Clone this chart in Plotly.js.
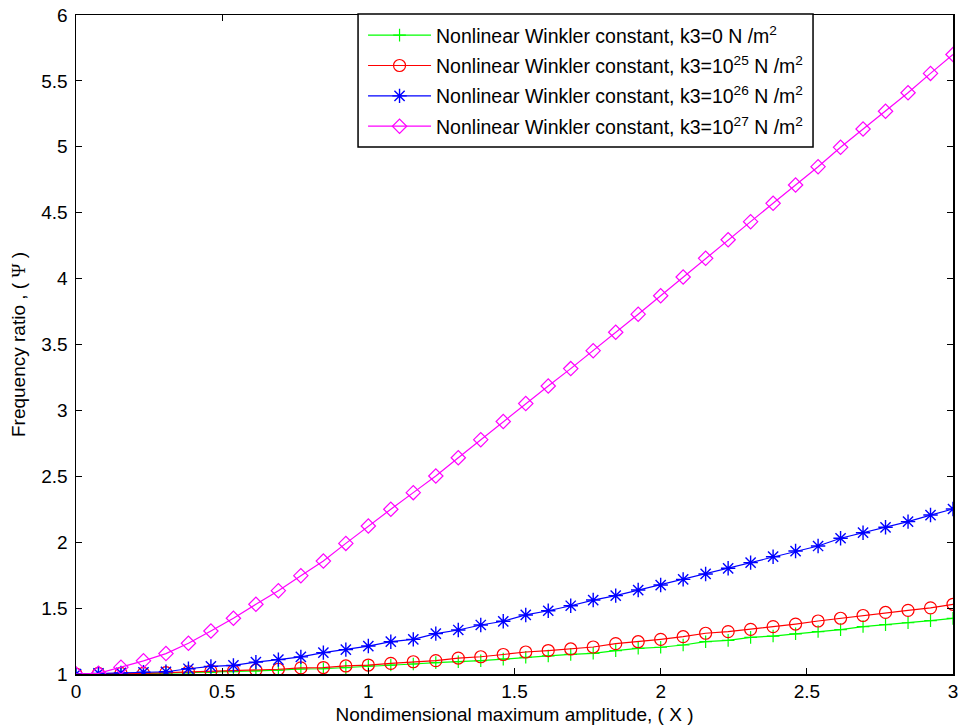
<!DOCTYPE html>
<html>
<head>
<meta charset="utf-8">
<script src="https://cdn.plot.ly/plotly-3.0.1.min.js"></script>
<style>
  html, body { margin: 0; padding: 0; background: #ffffff; }
  #chart { width: 970px; height: 726px; }
</style>
</head>
<body>
<div id="chart"></div>
<script>
// Nondimensional maximum amplitude (X)
const amplitude = [0, 0.0769, 0.1538, 0.2308, 0.3077, 0.3846, 0.4615, 0.5385, 0.6154, 0.6923,
  0.7692, 0.8462, 0.9231, 1.0000, 1.0769, 1.1538, 1.2308, 1.3077, 1.3846, 1.4615,
  1.5385, 1.6154, 1.6923, 1.7692, 1.8462, 1.9231, 2.0000, 2.0769, 2.1538, 2.2308,
  2.3077, 2.3846, 2.4615, 2.5385, 2.6154, 2.6923, 2.7692, 2.8462, 2.9231, 3.0000];

// Frequency ratio (Psi) for each nonlinear Winkler constant
const ratioK0 = [1.000, 1.000, 1.002, 1.004, 1.006, 1.009, 1.013, 1.018, 1.023, 1.030,
  1.038, 1.040, 1.048, 1.061, 1.068, 1.076, 1.086, 1.093, 1.101, 1.113,
  1.127, 1.137, 1.149, 1.157, 1.177, 1.195, 1.203, 1.220, 1.245, 1.255,
  1.278, 1.288, 1.305, 1.322, 1.337, 1.360, 1.374, 1.389, 1.405, 1.422];

const ratioK25 = [1.000, 1.005, 1.005, 1.005, 1.010, 1.017, 1.023, 1.023, 1.030, 1.036,
  1.046, 1.049, 1.061, 1.068, 1.081, 1.093, 1.102, 1.121, 1.131, 1.148,
  1.167, 1.178, 1.190, 1.205, 1.230, 1.245, 1.263, 1.283, 1.309, 1.321,
  1.339, 1.359, 1.379, 1.402, 1.423, 1.444, 1.467, 1.483, 1.502, 1.529];

const ratioK26 = [1.000, 1.005, 1.008, 1.013, 1.017, 1.040, 1.058, 1.065, 1.090, 1.109,
  1.130, 1.162, 1.185, 1.212, 1.245, 1.263, 1.306, 1.334, 1.372, 1.400,
  1.448, 1.480, 1.518, 1.561, 1.595, 1.637, 1.675, 1.718, 1.759, 1.802,
  1.845, 1.890, 1.933, 1.971, 2.030, 2.072, 2.113, 2.156, 2.206, 2.252];

const ratioK27 = [1.000, 1.005, 1.052, 1.100, 1.155, 1.233, 1.326, 1.423, 1.529, 1.632,
  1.746, 1.857, 1.991, 2.123, 2.250, 2.376, 2.502, 2.641, 2.778, 2.916,
  3.052, 3.185, 3.317, 3.453, 3.593, 3.730, 3.870, 4.012, 4.154, 4.295,
  4.432, 4.571, 4.710, 4.849, 4.996, 5.135, 5.270, 5.410, 5.557, 5.700];

const seriesNames = [
  'Nonlinear Winkler constant, k3=0 N /m<sup>2</sup>',
  'Nonlinear Winkler constant, k3=10<sup>25</sup> N /m<sup>2</sup>',
  'Nonlinear Winkler constant, k3=10<sup>26</sup> N /m<sup>2</sup>',
  'Nonlinear Winkler constant, k3=10<sup>27</sup> N /m<sup>2</sup>'
];

const xTitle = 'Nondimensional maximum amplitude, ( X )';
const yTitle = 'Frequency ratio , ( <span style="font-family:\'Liberation Serif\'">\u03A8</span> )';

const traces = [
  {x: amplitude, y: ratioK0, name: seriesNames[0], legendgroup: 'g0', type: 'scatter', mode: 'lines+markers',
   line: {color: '#00ff00', width: 1.2},
   marker: {symbol: 'cross-thin-open', size: 9, color: '#00ff00', line: {color: '#00ff00', width: 1.2}}},
  {x: amplitude, y: ratioK25, name: seriesNames[1], legendgroup: 'g1', type: 'scatter', mode: 'lines+markers',
   line: {color: '#ff0000', width: 1.2},
   marker: {symbol: 'circle-open', size: 12, color: '#ff0000', line: {color: '#ff0000', width: 1.2}}},
  {x: amplitude, y: ratioK26, name: seriesNames[2], legendgroup: 'g2', type: 'scatter', mode: 'lines+markers',
   line: {color: '#0000ff', width: 1.2},
   marker: {symbol: 'asterisk-open', size: 12, color: '#0000ff', line: {color: '#0000ff', width: 1.4}}},
  {x: amplitude, y: ratioK27, name: seriesNames[3], legendgroup: 'g3', type: 'scatter', mode: 'lines+markers',
   line: {color: '#ff00ff', width: 1.2},
   marker: {symbol: 'diamond-open', size: 11, color: '#ff00ff', line: {color: '#ff00ff', width: 1.2}}}
];

const axisCommon = {
  showgrid: false, zeroline: false, showline: true, mirror: 'ticks',
  linecolor: '#000000', linewidth: 1.5,
  ticks: 'inside', ticklen: 6, tickcolor: '#000000', tickwidth: 1,
  tickfont: {family: 'Liberation Sans, Arial, sans-serif', size: 19, color: '#000000'}
};

const layout = {
  width: 970, height: 726,
  margin: {l: 76, r: 17, t: 15, b: 52},
  paper_bgcolor: '#ffffff', plot_bgcolor: '#ffffff',
  font: {family: 'Liberation Sans, Arial, sans-serif', color: '#000000'},
  showlegend: true,
  legend: {
    x: 0.3273, y: 0.9985, xanchor: 'left', yanchor: 'top',
    bgcolor: 'rgba(0,0,0,0)', borderwidth: 0,
    font: {family: 'Liberation Sans, Arial, sans-serif', size: 19.5, color: '#000000'},
    itemwidth: 63, tracegroupgap: 2
  },
  shapes: [{
    type: 'rect', xref: 'paper', yref: 'paper',
    x0: 0.3216, x1: 0.8404, y0: 0.7997, y1: 1.0015,
    fillcolor: '#ffffff', line: {color: '#000000', width: 1.5}, layer: 'above'
  }],
  xaxis: Object.assign({}, axisCommon, {
    range: [0, 3], dtick: 0.5, tick0: 0,
    title: {text: xTitle, font: {size: 19, color: '#000000'}, standoff: 6}
  }),
  yaxis: Object.assign({}, axisCommon, {
    range: [1, 6], dtick: 0.5, tick0: 1, ticklabelstandoff: 3,
    title: {text: yTitle, font: {size: 19, color: '#000000'}, standoff: 10}
  })
};

Plotly.newPlot('chart', traces, layout, {displayModeBar: false, staticPlot: true});
</script>
</body>
</html>
